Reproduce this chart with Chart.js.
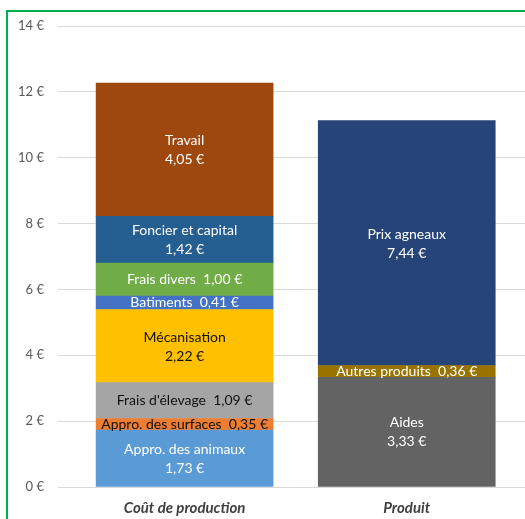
<!DOCTYPE html>
<html>
<head>
<meta charset="utf-8">
<script src="https://cdn.jsdelivr.net/npm/chart.js@4"></script>
<style>
  html, body { margin: 0; padding: 0; overflow: hidden; background: #fff; }
  #cadre { position: absolute; left: 6px; top: 10px; width: 600px; height: 600px; border: 2px solid #00B050; }
  #zone { position: absolute; left: 0; top: 0; width: 560px; height: 540px; }
</style>
</head>
<body>
<div id="cadre"></div>
<div id="zone"><canvas id="coutChart"></canvas></div>
<script>
// Coût de production et produit (€)

const categories = ['Coût de production', 'Produit'];

// postes du coût de production, du bas vers le haut
const coutLabels = ['Appro. des animaux', 'Appro. des surfaces', "Frais d'élevage", 'Mécanisation',
                    'Batiments', 'Frais divers', 'Foncier et capital', 'Travail'];
const coutValues = [1.73, 0.35, 1.09, 2.22, 0.41, 1.00, 1.42, 4.05];
const coutColors = ['#5B9BD5', '#ED7D31', '#A5A5A5', '#FFC000', '#4472C4', '#70AD47', '#255E91', '#9E480E'];
const coutTextColors = ['#fff', '#111', '#111', '#111', '#fff', '#fff', '#fff', '#fff'];
const coutInline = [false, true, true, false, true, true, false, false];

// postes du produit
const produitLabels = ['Aides', 'Autres produits', 'Prix agneaux'];
const produitValues = [3.33, 0.36, 7.44];
const produitColors = ['#636363', '#997300', '#264478'];
const produitTextColors = ['#fff', '#fff', '#fff'];
const produitInline = [false, true, false];

const yTicks = [0, 2, 4, 6, 8, 10, 12, 14];

const euro = v => v.toFixed(2).replace('.', ',') + ' €';

const datasets = [];
coutLabels.forEach((l, i) => datasets.push({
    label: l, data: [{ x: 0, y: coutValues[i] }], backgroundColor: coutColors[i],
    textColor: coutTextColors[i], inline: coutInline[i]
}));
produitLabels.forEach((l, i) => datasets.push({
    label: l, data: [{ x: 1, y: produitValues[i] }], backgroundColor: produitColors[i],
    textColor: produitTextColors[i], inline: produitInline[i]
}));

// étiquettes dans les barres
const etiquettes = {
    id: 'etiquettes',
    afterDatasetsDraw(chart) {
        const c = chart.ctx;
        c.save();
        c.font = '14px Lato';
        c.textAlign = 'center';
        c.textBaseline = 'middle';
        chart.data.datasets.forEach((ds, i) => {
            const bar = chart.getDatasetMeta(i).data[0];
            const v = ds.data[0].y;
            const cy = (bar.y + bar.base) / 2;
            c.fillStyle = ds.textColor;
            if (ds.inline) {
                c.fillText(ds.label + '  ' + euro(v), bar.x, cy);
            } else {
                c.fillText(ds.label, bar.x, cy - 9);
                c.fillText(euro(v), bar.x, cy + 10);
            }
        });
        c.restore();
    }
};

const ctx = document.getElementById('coutChart').getContext('2d');

new Chart(ctx, {
    type: 'bar',
    data: { datasets: datasets },
    options: {
        responsive: true,
        maintainAspectRatio: false,
        animation: false,
        layout: { padding: { top: 26, left: 0, right: 0, bottom: 0 } },
        datasets: { bar: { barThickness: 177, borderWidth: 0 } },
        plugins: {
            legend: { display: false },
            tooltip: { enabled: false }
        },
        scales: {
            x: {
                type: 'linear',
                stacked: true,
                offset: false,
                min: -0.57,
                max: 1.69,
                grid: { display: false, drawTicks: false },
                border: { display: false },
                afterBuildTicks: axis => { axis.ticks = categories.map((c, i) => ({ value: i })); },
                afterFit: axis => { axis.height = 53; },
                ticks: {
                    autoSkip: false,
                    maxRotation: 0,
                    padding: 12,
                    color: '#404040',
                    font: { family: 'Lato', size: 15, style: 'italic', weight: 'bold' },
                    callback: v => categories[v]
                }
            },
            y: {
                stacked: true,
                min: 0,
                max: 14,
                afterBuildTicks: axis => { axis.ticks = yTicks.map(v => ({ value: v })); },
                afterFit: axis => { axis.width = 58; },
                grid: { color: '#D9D9D9', lineWidth: 1, drawTicks: false },
                border: { display: false },
                ticks: {
                    padding: 14,
                    color: '#595959',
                    font: { family: 'Lato', size: 13 },
                    callback: v => v + ' €'
                }
            }
        }
    },
    plugins: [etiquettes]
});
</script>
</body>
</html>
